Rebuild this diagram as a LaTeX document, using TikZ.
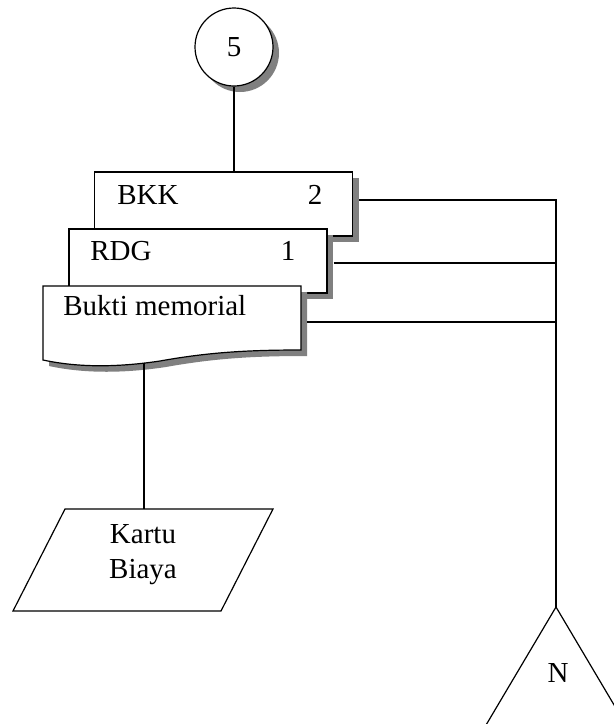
\documentclass[tikz,border=0pt]{standalone}
\usepackage{fontspec}
\setmainfont{Liberation Serif}
\usepackage{xcolor}
\usepackage{tikz}
\usetikzlibrary{shadows}

\tikzset{
	shade3/.style={drop shadow={shadow xshift=3pt, shadow yshift=-3pt, fill=gray, opacity=1}},
	doc/.style={draw, fill=white, rectangle, inner sep=0pt, minimum width=129pt, minimum height=32pt, line width=0.6pt, shade3},
	line/.style={line width=0.8pt}
}

\begin{document}
\begin{tikzpicture}[x=0.5pt, y=0.5pt, font=\fontsize{14.5pt}{17.5pt}\selectfont]
				\clip (0, 0) rectangle (614, -724);
				
				%Connector 5
				\node[circle, draw, fill=white, line width=0.6pt, minimum size=39pt, inner sep=0pt, shade3] (c5) at (234, -47) {5};
				
				%Documents
				\node[doc] (bkk) at (223.5, -204) {};
				\node[anchor=west, inner sep=0pt] (bkklbl) at (117, -195) {BKK};
				\node[inner sep=0pt] (bkkno) at (315, -195) {2};
				
				\node[doc] (rdg) at (198, -261) {};
				\node[anchor=west, inner sep=0pt] (rdglbl) at (90, -251) {RDG};
				\node[inner sep=0pt] (rdgno) at (288, -251) {1};
				
				\node[rectangle, inner sep=0pt, minimum width=129pt, minimum height=32pt] (bm) at (172, -318) {};
				\fill[gray, shift={(6, -6)}] (43, -286) -- (301, -286) -- (301, -350)
					.. controls (250, -350) and (210, -352) .. (160, -361)
					.. controls (120, -367) and (80, -368) .. (43, -360) -- cycle;
				\filldraw[fill=white, line width=0.6pt] (43, -286) -- (301, -286) -- (301, -350)
					.. controls (250, -350) and (210, -352) .. (160, -361)
					.. controls (120, -367) and (80, -368) .. (43, -360) -- cycle;
				\node[anchor=west, inner sep=0pt] (bmlbl) at (63, -306) {Bukti memorial};
				\coordinate (bmwave) at (144, -363);
				
				%Kartu Biaya
				\draw[line width=0.6pt] (65, -509) -- (273, -509) -- (221, -611) -- (13, -611) -- cycle;
				\coordinate (kartutop) at (144, -509);
				\node[align=center, inner sep=0pt] (kartu) at (143, -555) {Kartu\\Biaya};
				
				%Off-page connector N
				\coordinate (napex) at (556, -607);
				\draw[line width=0.6pt] (napex) -- ++(-83, -140) -- ++(166, 0) -- cycle;
				\node (n) at (558, -673) {N};
				
				%Lines
				\draw[line] (c5.south) -- (c5.south |- bkk.north);
				\draw[line] (bmwave) -- (kartutop);
				\draw[line, shorten <=3pt] ([yshift=2pt]bkk.east) -| (napex);
				\draw[line, shorten <=3pt] ([yshift=-1pt]rdg.east) -- ([yshift=-1pt]rdg.east -| napex);
				\draw[line, shorten <=3pt] ([yshift=-2pt]bm.east) -- ([yshift=-2pt]bm.east -| napex);
			\end{tikzpicture}
\end{document}
